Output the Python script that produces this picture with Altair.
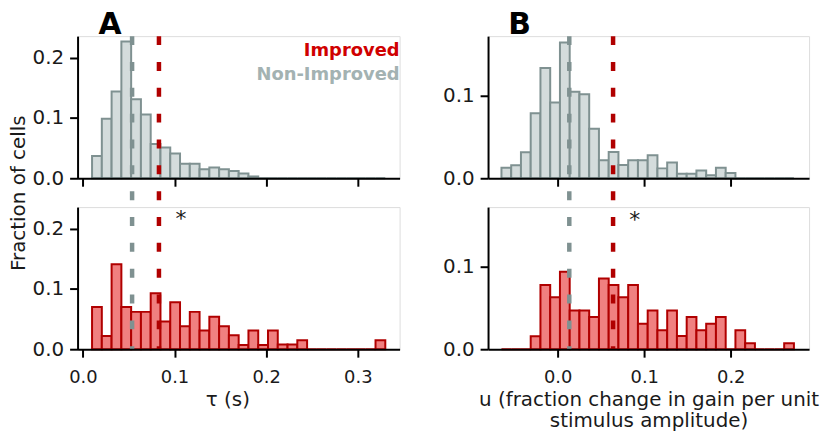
import altair as alt
import pandas as pd
import numpy as np

FONT = "DejaVu Sans"
N_BINS = 30

# ---- data ----
tau_range = [0.01, 0.33]      # histogram range for tau (s)
u_range = [-0.065, 0.273]     # histogram range for u

tau_non_improved = [0.037, 0.099, 0.144, 0.227, 0.131, 0.106, 0.057, 0.051, 0.041, 0.024,
                    0.024, 0.015, 0.018, 0.015, 0.012, 0.008, 0.003, 0, 0, 0,
                    0, 0, 0, 0, 0, 0, 0, 0, 0, 0]
tau_improved = [0.070, 0.022, 0.141, 0.070, 0.062, 0.062, 0.093, 0.046, 0.078, 0.038,
                0.062, 0.031, 0.054, 0.038, 0.023, 0.007, 0.031, 0.007, 0.031, 0.008,
                0.008, 0.015, 0, 0, 0, 0, 0, 0, 0, 0.015]
u_non_improved = [0.0127, 0.0159, 0.0317, 0.079, 0.134, 0.092, 0.165, 0.105, 0.102, 0.060,
                  0.022, 0.032, 0.016, 0.022, 0.022, 0.028, 0.012, 0.019, 0.0056, 0.0056,
                  0.0095, 0.0036, 0.0127, 0.0063, 0, 0, 0, 0, 0, 0]
u_improved = [0, 0, 0, 0.0157, 0.078, 0.063, 0.094, 0.047, 0.047, 0.039,
              0.086, 0.078, 0.063, 0.078, 0.031, 0.047, 0.023, 0.047, 0.016, 0.039,
              0.023, 0.031, 0.039, 0, 0.023, 0.0073, 0, 0, 0, 0.0073]

tau_medians = [0.0537, 0.083]   # non-improved, improved
u_medians = [0.0134, 0.064]

tau_star = [0.107, 0.204]
u_star = [0.0889, 0.149]

legend_labels = ["Improved", "Non-Improved"]
panel_labels = ["A", "B"]
tau_title = "τ (s)"
u_title = ["u (fraction change in gain per unit", "stimulus amplitude)"]
y_title = "Fraction of cells"

tau_xdomain = [-0.0058, 0.3456]
u_xdomain = [-0.0805, 0.2905]
tau_ydomain = [0, 0.236]
u_ydomain = [0, 0.1726]
tau_xticks = [0.0, 0.1, 0.2, 0.3]
u_xticks = [0.0, 0.1, 0.2]
tau_yticks = [0.0, 0.1, 0.2]
u_yticks = [0.0, 0.1]

# ---- styling ----
GRAY_FILL = "#d4dcdc"
GRAY_EDGE = "#7f9191"
RED_FILL = "#f08080"
RED_EDGE = "#b00000"
RED_TEXT = "#d00000"
GRAY_TEXT = "#a3b2b2"
H = 143
W_A, W_B = 324, 323
ROW_GAP = 29
COL_GAP = 89
LABEL_DY = -2.3


def hist_df(vals, rng):
    edges = np.linspace(rng[0], rng[1], N_BINS + 1)
    return pd.DataFrame({"x": edges[:-1], "x2": edges[1:], "frac": vals})


def axis_common(**kw):
    base = dict(domainColor="black", domainWidth=2, tickColor="black", tickWidth=2,
                tickSize=8, labelFont=FONT, labelFontSize=18, labelColor="#1a1a1a",
                grid=False, zindex=1, format=".1f", titleFont=FONT, titleFontSize=20,
                titleFontWeight="normal", titleColor="#1a1a1a")
    base.update(kw)
    return alt.Axis(**base)


def panel(vals, rng, xdom, ydom, xticks, yticks, fill, edge, width, bottom,
          xtitle=None, xaxis_kw=None, yaxis_kw=None):
    xscale = alt.Scale(domain=xdom, nice=False, zero=False)
    yscale = alt.Scale(domain=ydom, nice=False, zero=True)
    xkw = dict(values=xticks, labels=bottom, labelPadding=11)
    if bottom:
        xkw.update(title=xtitle, titlePadding=4)
    else:
        xkw.update(title=None)
    if xaxis_kw:
        xkw.update(xaxis_kw)
    ykw = dict(values=yticks, labelPadding=6, title=None, labelFontSize=20)
    if yaxis_kw:
        ykw.update(yaxis_kw)
    bars = alt.Chart(hist_df(vals, rng)).mark_rect(
        fill=fill, stroke=edge, strokeWidth=2, opacity=1
    ).encode(
        x=alt.X("x:Q", scale=xscale, axis=axis_common(**xkw)),
        x2="x2:Q",
        y=alt.Y("frac:Q", scale=yscale, axis=axis_common(**ykw)),
        y2=alt.datum(0),
    )
    return bars, xscale, yscale


def medians_layer(meds, xscale):
    gray = alt.Chart(pd.DataFrame({"x": [meds[0]]})).mark_rule(
        stroke=GRAY_EDGE, strokeWidth=4.5, strokeDash=[9, 17]
    ).encode(x=alt.X("x:Q", scale=xscale), y=alt.value(-(H + ROW_GAP)), y2=alt.value(H))
    red = alt.Chart(pd.DataFrame({"x": [meds[1]]})).mark_rule(
        stroke=RED_EDGE, strokeWidth=4.5, strokeDash=[9, 17]
    ).encode(x=alt.X("x:Q", scale=xscale), y=alt.value(-(H + ROW_GAP)), y2=alt.value(H))
    return [gray, red]


def star_layer(pos, xscale, yscale):
    return alt.Chart(pd.DataFrame({"x": [pos[0]], "frac": [pos[1]], "t": ["*"]})).mark_text(
        font=FONT, fontSize=22, color="#1a1a1a", align="center", baseline="alphabetic"
    ).encode(x=alt.X("x:Q", scale=xscale), y=alt.Y("frac:Q", scale=yscale), text="t:N")


def label_layer(text, x, y, size, color, align="center", weight="bold"):
    return alt.Chart(pd.DataFrame({"t": [text]})).mark_text(
        font=FONT, fontSize=size, fontWeight=weight, color=color, align=align,
        baseline="alphabetic"
    ).encode(x=alt.value(x), y=alt.value(y), text="t:N")


# ---- panel A top ----
topA_bars, xsA, ysA = panel(
    tau_non_improved, tau_range, tau_xdomain, tau_ydomain, tau_xticks, tau_yticks,
    GRAY_FILL, GRAY_EDGE, W_A, False,
    yaxis_kw=dict(title=y_title, titleX=-49, titleY=H + ROW_GAP / 2, titleAngle=270,
                  titleAlign="center", titleBaseline="bottom"))
topA = alt.layer(
    topA_bars,
    label_layer(legend_labels[0], W_A, 20, 18, RED_TEXT, align="right"),
    label_layer(legend_labels[1], W_A, 43.7, 18, GRAY_TEXT, align="right"),
    label_layer(panel_labels[0], 32.7, LABEL_DY, 30, "#000000"),
).properties(width=W_A, height=H)

# ---- panel A bottom ----
botA_bars, _, _ = panel(
    tau_improved, tau_range, tau_xdomain, tau_ydomain, tau_xticks, tau_yticks,
    RED_FILL, RED_EDGE, W_A, True, xtitle=tau_title, xaxis_kw=dict(titleX=150.7))
botA = alt.layer(botA_bars, *medians_layer(tau_medians, xsA),
                 star_layer(tau_star, xsA, ysA)).properties(width=W_A, height=H)

# ---- panel B top ----
topB_bars, xsB, ysB = panel(
    u_non_improved, u_range, u_xdomain, u_ydomain, u_xticks, u_yticks,
    GRAY_FILL, GRAY_EDGE, W_B, False)
topB = alt.layer(
    topB_bars,
    label_layer(panel_labels[1], 31.7, LABEL_DY, 30, "#000000"),
).properties(width=W_B, height=H)

# ---- panel B bottom ----
botB_bars, _, _ = panel(
    u_improved, u_range, u_xdomain, u_ydomain, u_xticks, u_yticks,
    RED_FILL, RED_EDGE, W_B, True, xtitle=u_title, xaxis_kw=dict(titleLineHeight=21))
botB = alt.layer(botB_bars, *medians_layer(u_medians, xsB),
                 star_layer(u_star, xsB, ysB)).properties(width=W_B, height=H)

chart = alt.concat(
    topA, topB, botA, botB, columns=2,
    spacing={"row": ROW_GAP, "column": COL_GAP}, bounds="flush",
).resolve_scale(x="independent", y="independent").properties(
    padding=0, background="white"
).configure_view(strokeWidth=0).configure(font=FONT)

chart.save("out.html", embed_options={"renderer": "svg", "actions": False})
